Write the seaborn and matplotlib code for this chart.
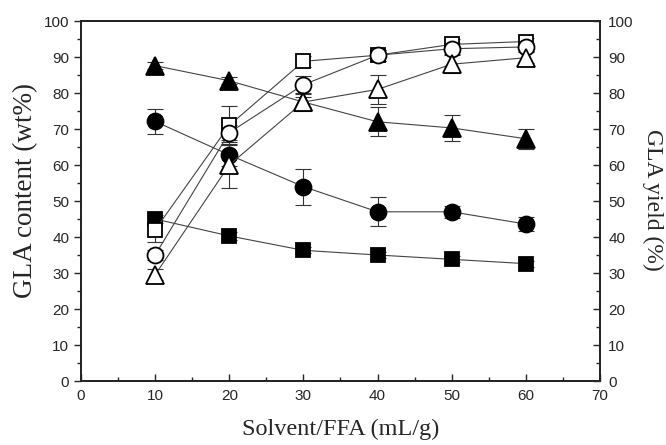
import matplotlib
matplotlib.use("Agg")
import matplotlib.pyplot as plt
import seaborn as sns
import numpy as np
from matplotlib.ticker import MultipleLocator

x = [10, 20, 30, 40, 50, 60]
content_square = [45.0, 40.3, 36.3, 35.0, 33.8, 32.6]
content_circle = [72.1, 62.8, 54.0, 47.0, 47.0, 43.6]
content_triangle = [87.6, 83.4, 77.5, 72.0, 70.3, 67.3]
yield_square = [42.0, 71.0, 88.8, 90.5, 93.5, 94.3]
yield_circle = [35.0, 69.0, 82.3, 90.5, 92.3, 92.8]
yield_triangle = [29.5, 60.0, 77.5, 81.0, 88.0, 89.8]

err_content_square = [1.2, 1.0, 0.8, 0.8, 0.8, 0.8]
err_content_circle = [3.5, 3.0, 5.0, 4.0, 1.7, 2.0]
err_content_triangle = [1.0, 1.0, 1.5, 4.0, 3.7, 2.8]
err_yield_square = [3.5, 5.5, 1.5, 1.5, 1.5, 1.0]
err_yield_circle = [1.5, 2.0, 2.5, 1.5, 1.5, 1.0]
err_yield_triangle = [1.5, 6.5, 2.5, 4.0, 2.5, 1.5]

sns.set_style("ticks")
plt.rcParams['font.family'] = ['Liberation Sans', 'DejaVu Sans']

fig = plt.figure(figsize=(6.66, 4.45), dpi=100)
ax = fig.add_axes([0.1216, 0.1438, 0.7793, 0.809])

marker_sizes = {'s': 10.5, 'o': 11.5, '^': 13}

series = [
    (content_square, err_content_square, 's', 'black'),
    (content_circle, err_content_circle, 'o', 'black'),
    (content_triangle, err_content_triangle, '^', 'black'),
    (yield_square, err_yield_square, 's', 'white'),
    (yield_circle, err_yield_circle, 'o', 'white'),
    (yield_triangle, err_yield_triangle, '^', 'white'),
]

for vals, errs, m, fc in series:
    ax.errorbar(x, vals, yerr=errs, fmt='none', ecolor='#333333', elinewidth=0.8,
                capsize=6, capthick=0.8, zorder=2)
    sns.lineplot(x=x, y=vals, ax=ax, color='#444444', linewidth=0.8,
                 marker=m, markersize=marker_sizes[m],
                 markerfacecolor=fc, markeredgecolor='black', markeredgewidth=1.3,
                 zorder=3)

ax.set_xlim(0, 70)
ax.set_ylim(0, 100)
ax.xaxis.set_major_locator(MultipleLocator(10))
ax.xaxis.set_minor_locator(MultipleLocator(5))
ax.yaxis.set_major_locator(MultipleLocator(10))
ax.yaxis.set_minor_locator(MultipleLocator(5))
ax.tick_params(axis='x', which='both', direction='in', labelsize=11, pad=6)
ax.tick_params(axis='x', which='major', length=5, width=1)
ax.tick_params(axis='x', which='minor', length=3, width=1)
ax.tick_params(axis='y', which='major', direction='out', length=5, width=1, labelsize=11)
ax.tick_params(axis='y', which='minor', direction='out', length=3, width=1)
for s in ax.spines.values():
    s.set_linewidth(1.2)
    s.set_color('black')

ax2 = ax.twinx()
ax2.set_ylim(0, 100)
ax2.yaxis.set_major_locator(MultipleLocator(10))
ax2.yaxis.set_minor_locator(MultipleLocator(5))
ax2.tick_params(axis='y', which='major', direction='in', length=5, width=1, labelsize=11, pad=6)
ax2.tick_params(axis='y', which='minor', direction='in', length=3, width=1)
for s in ax2.spines.values():
    s.set_linewidth(1.2)

serif = ['Liberation Serif', 'DejaVu Serif']
ax.set_xlabel('Solvent/FFA (mL/g)', fontsize=17.5, family=serif, labelpad=11)
ax.set_ylabel('GLA content (wt%)', fontsize=19.5, family=serif)
ax.yaxis.set_label_coords(-0.083, 0.528)
ax2.set_ylabel('GLA yield (%)', fontsize=17, family=serif, rotation=270)
ax2.yaxis.set_label_coords(1.122, 0.503)

fig.savefig('out.png', dpi=100)
